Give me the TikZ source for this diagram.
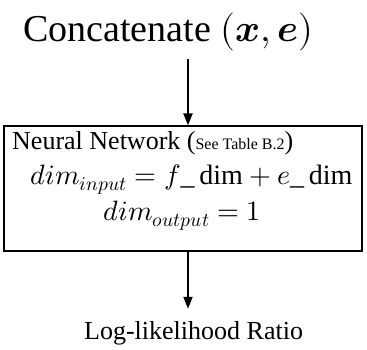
\documentclass[tikz,border=0pt]{standalone}
\usepackage{fontspec}
\usepackage{unicode-math}
\setmainfont{Liberation Serif}
\setmathfont{Latin Modern Math}
\usepackage{tikz}
\usetikzlibrary{arrows.meta,calc,positioning}

\tikzset{
  flow/.style={-{Triangle[length=12pt,width=9pt]},line width=2pt},
  nnframe/.style={draw,line width=1.2pt,minimum width=358pt,minimum height=125pt,inner sep=0pt},
  bodytext/.style={anchor=base west,inner sep=0pt,font=\fontsize{26}{30}\selectfont},
  mathtext/.style={anchor=base west,inner sep=0pt,font=\fontsize{28}{32}\selectfont}
}

\begin{document}
\begin{tikzpicture}[x=1pt,y=1pt]
  \useasboundingbox (0,0) rectangle (367,-349);
  \node[anchor=base west,inner sep=0pt,font=\fontsize{38}{42}\selectfont] (concat) at (23,-41) {Concatenate $(\symbfit{x},\symbfit{e})$};
  \node[nnframe] (nnbox) at (183,-188.5) {};
  \node[bodytext] (nntitle) at (12,-149) {Neural Network ({\fontsize{16}{18}\selectfont See Table B.2})};
  \node[mathtext] (diminput) at (30,-184) {$dim_{input} = f\_\,\mathrm{dim} + e\_\,\mathrm{dim}$};
  \node[mathtext] (dimoutput) at (103,-220) {$dim_{output} = 1$};
  \node[bodytext] (llr) at (84,-339) {Log-likelihood Ratio};
  \coordinate (axis) at (188,0);
  \draw[flow] ($(concat.south -| axis)+(0,-8)$) -- (nnbox.north -| axis);
  \draw[flow] (nnbox.south -| axis) -- ($(llr.north -| axis)+(0,12)$);
\end{tikzpicture}
\end{document}
